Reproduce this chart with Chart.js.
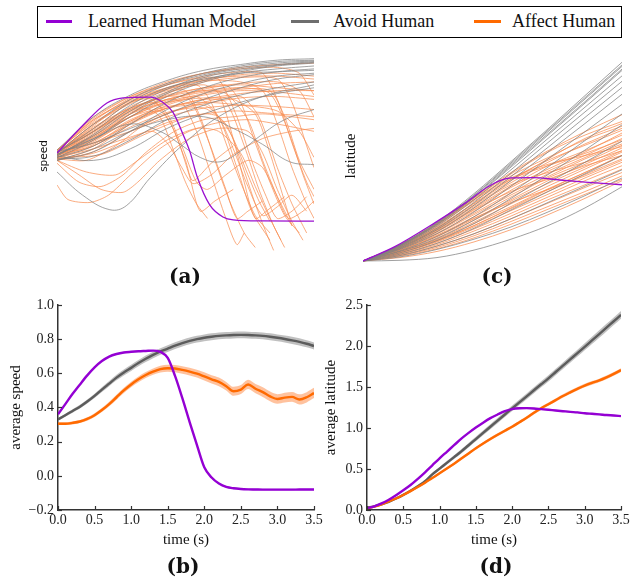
<!DOCTYPE html>
<html><head><meta charset="utf-8">
<script src="https://cdn.jsdelivr.net/npm/chart.js@4.4.1/dist/chart.umd.min.js"></script>
<style>
html,body{margin:0;padding:0;background:#fff;width:630px;height:578px;overflow:hidden;position:relative;font-family:'Liberation Serif','Times New Roman',serif;color:#111;}
canvas{position:absolute;}
.lgbox{position:absolute;left:37px;top:6px;width:583px;height:30px;border:1px solid #000;}
.lgline{position:absolute;top:20px;height:3px;}
.lgtext{position:absolute;top:11px;font-size:18px;line-height:20px;white-space:nowrap;}
.plab{position:absolute;width:80px;text-align:center;font-family:'DejaVu Serif',serif;font-weight:bold;font-size:20px;line-height:24px;}
</style></head><body>
<div class="lgbox"></div>
<div class="lgline" style="left:46px;width:26px;background:#9400D3"></div>
<span class="lgtext" style="left:88px">Learned Human Model</span>
<div class="lgline" style="left:291px;width:28px;background:#6e6e6e"></div>
<span class="lgtext" style="left:333px">Avoid Human</span>
<div class="lgline" style="left:474px;width:27px;background:#ff6a00"></div>
<span class="lgtext" style="left:512px">Affect Human</span>

<canvas id="cA" width="320" height="230" style="left:0;top:40px"></canvas>
<canvas id="cC" width="310" height="230" style="left:320px;top:40px"></canvas>
<canvas id="cB" width="330" height="265" style="left:0;top:290px"></canvas>
<canvas id="cD" width="320" height="265" style="left:320px;top:290px"></canvas>

<div class="plab" style="left:145px;top:264px">(a)</div>
<div class="plab" style="left:457px;top:264px">(c)</div>
<div class="plab" style="left:143px;top:554px">(b)</div>
<div class="plab" style="left:456px;top:554px">(d)</div>

<script>
// ---------------- data ----------------
const seriesNames = ['Learned Human Model', 'Avoid Human', 'Affect Human'];
const timeGrid = [0.0,0.1,0.2,0.3,0.4,0.5,0.6,0.7,0.8,0.9,1.0,1.1,1.2,1.3,1.4,1.5,1.6,1.7,1.8,1.9,2.0,2.1,2.2,2.3,2.4,2.5,2.6,2.7,2.8,2.9,3.0,3.1,3.2,3.3,3.4,3.5];
const timeTicks = [0.0,0.5,1.0,1.5,2.0,2.5,3.0,3.5];
const speedTicks = [-0.2,0.0,0.2,0.4,0.6,0.8,1.0];
const latitudeTicks = [0.0,0.5,1.0,1.5,2.0,2.5];

// (b) average speed
const avgSpeedLearned = [0.36,0.42,0.48,0.535,0.588,0.635,0.672,0.698,0.713,0.722,0.726,0.729,0.731,0.733,0.726,0.69,0.585,0.455,0.315,0.18,0.05,-0.01,-0.045,-0.065,-0.073,-0.077,-0.079,-0.08,-0.081,-0.081,-0.081,-0.081,-0.081,-0.08,-0.08,-0.08];
const avgSpeedAvoid = [0.33,0.355,0.38,0.405,0.435,0.468,0.505,0.54,0.575,0.605,0.632,0.66,0.685,0.708,0.728,0.745,0.762,0.777,0.79,0.8,0.808,0.814,0.819,0.822,0.824,0.825,0.824,0.822,0.819,0.814,0.808,0.801,0.793,0.784,0.773,0.76];
const avgSpeedAffect = [0.305,0.305,0.31,0.318,0.333,0.355,0.385,0.42,0.46,0.5,0.535,0.565,0.59,0.61,0.625,0.63,0.628,0.62,0.61,0.598,0.582,0.565,0.55,0.525,0.495,0.505,0.535,0.51,0.49,0.465,0.45,0.458,0.462,0.447,0.46,0.485];
const avgSpeedLearnedStd = [0.004,0.004,0.004,0.004,0.004,0.004,0.004,0.004,0.004,0.004,0.004,0.004,0.004,0.004,0.004,0.005,0.005,0.005,0.005,0.005,0.005,0.005,0.005,0.005,0.005,0.005,0.005,0.005,0.005,0.005,0.005,0.005,0.005,0.005,0.005,0.005];
const avgSpeedAvoidStd = [0.008,0.009,0.01,0.011,0.012,0.013,0.014,0.015,0.016,0.017,0.018,0.018,0.019,0.019,0.019,0.02,0.02,0.02,0.02,0.02,0.02,0.02,0.02,0.02,0.02,0.02,0.02,0.02,0.02,0.02,0.02,0.02,0.021,0.021,0.021,0.021];
const avgSpeedAffectStd = [0.008,0.008,0.009,0.009,0.01,0.011,0.012,0.013,0.014,0.015,0.016,0.017,0.018,0.019,0.02,0.02,0.021,0.022,0.022,0.023,0.024,0.024,0.025,0.025,0.026,0.026,0.027,0.027,0.028,0.028,0.028,0.029,0.029,0.03,0.03,0.03];

// (d) average latitude
const avgLatLearned = [0.02,0.045,0.08,0.125,0.18,0.24,0.305,0.38,0.46,0.545,0.63,0.71,0.79,0.87,0.94,1.005,1.065,1.12,1.165,1.205,1.23,1.24,1.242,1.238,1.23,1.222,1.213,1.205,1.197,1.19,1.18,1.173,1.166,1.158,1.152,1.145];
const avgLatAvoid = [0.03,0.045,0.07,0.1,0.14,0.185,0.235,0.29,0.35,0.435,0.505,0.575,0.645,0.715,0.79,0.865,0.94,1.015,1.09,1.165,1.24,1.313,1.386,1.46,1.533,1.606,1.683,1.76,1.837,1.913,1.99,2.068,2.146,2.224,2.302,2.38];
const avgLatAffect = [0.02,0.04,0.07,0.105,0.14,0.183,0.23,0.28,0.333,0.39,0.447,0.505,0.565,0.627,0.69,0.752,0.81,0.865,0.917,0.967,1.016,1.07,1.125,1.185,1.24,1.29,1.34,1.39,1.435,1.478,1.518,1.55,1.58,1.618,1.66,1.707];
const avgLatLearnedStd = [0.003,0.003,0.004,0.004,0.005,0.005,0.006,0.006,0.007,0.007,0.008,0.008,0.008,0.009,0.009,0.009,0.01,0.01,0.01,0.01,0.01,0.01,0.01,0.01,0.01,0.01,0.01,0.01,0.01,0.01,0.01,0.01,0.01,0.01,0.01,0.01];
const avgLatAvoidStd = [0.005,0.006,0.007,0.008,0.009,0.01,0.012,0.014,0.016,0.018,0.02,0.022,0.024,0.026,0.027,0.028,0.029,0.03,0.031,0.032,0.033,0.034,0.035,0.036,0.037,0.038,0.039,0.04,0.041,0.042,0.043,0.044,0.045,0.046,0.047,0.048];
const avgLatAffectStd = [0.004,0.005,0.006,0.007,0.008,0.009,0.01,0.011,0.012,0.013,0.014,0.015,0.015,0.016,0.016,0.017,0.017,0.018,0.018,0.018,0.019,0.019,0.019,0.02,0.02,0.02,0.02,0.021,0.021,0.021,0.022,0.022,0.022,0.022,0.023,0.023];

// (a) speed trajectories, [time, speed] pairs
const speedLearnedTraj = [[0,0.35],[0.35,0.54],[0.68,0.695],[0.9,0.73],[1.27,0.736],[1.44,0.70],[1.58,0.63],[1.72,0.475],[1.81,0.36],[1.91,0.185],[2.08,-0.007],[2.26,-0.09],[2.4,-0.11],[2.8,-0.117],[3.5,-0.118]];
const speedAvoidTraj = [
 [[0,0.37],[0.5,0.6],[1,0.75],[1.5,0.85],[2,0.92],[2.5,0.96],[3,0.99],[3.5,1.0]],
 [[0,0.35],[0.5,0.55],[1,0.72],[1.5,0.83],[2,0.9],[2.5,0.95],[3,0.98],[3.5,0.99]],
 [[0,0.33],[0.5,0.48],[1,0.66],[1.5,0.79],[2,0.88],[2.5,0.93],[3,0.96],[3.5,0.98]],
 [[0,0.34],[0.5,0.45],[1,0.6],[1.5,0.74],[2,0.84],[2.5,0.9],[3,0.93],[3.5,0.95]],
 [[0,0.32],[0.5,0.4],[1,0.55],[1.5,0.7],[2,0.8],[2.5,0.87],[3,0.91],[3.5,0.93]],
 [[0,0.3],[0.5,0.36],[1,0.5],[1.5,0.65],[2,0.76],[2.5,0.83],[3,0.88],[3.5,0.9]],
 [[0,0.36],[0.5,0.42],[1,0.52],[1.5,0.62],[2,0.72],[2.5,0.8],[3,0.86],[3.5,0.89]],
 [[0,0.31],[0.5,0.33],[1,0.44],[1.5,0.58],[2,0.68],[2.5,0.75],[3,0.8],[3.5,0.84]],
 [[0,0.33],[0.5,0.3],[1,0.38],[1.5,0.52],[2,0.62],[2.5,0.7],[3,0.76],[3.5,0.8]],
 [[0,0.22],[0.35,0.06],[0.72,-0.04],[0.95,-0.01],[1.27,0.18],[1.72,0.41],[2.2,0.6],[2.8,0.74],[3.5,0.82]],
 [[0,0.34],[0.5,0.45],[1,0.55],[1.4,0.5],[1.68,0.41],[1.95,0.32],[2.22,0.29],[2.49,0.36],[2.77,0.47],[3.1,0.58],[3.5,0.65]],
 [[0,0.3],[0.5,0.38],[1,0.5],[1.5,0.58],[2,0.6],[2.4,0.52],[2.8,0.41],[3.17,0.29],[3.5,0.27]],
 [[0,0.36],[0.5,0.5],[1,0.68],[1.5,0.8],[2,0.86],[2.5,0.9],[3,0.91],[3.5,0.92]],
 [[0,0.32],[0.5,0.44],[1,0.62],[1.5,0.76],[2,0.85],[2.5,0.91],[3,0.95],[3.5,0.97]],
 [[0,0.35],[0.5,0.52],[1,0.7],[1.5,0.82],[2,0.89],[2.5,0.94],[3,0.97],[3.5,0.985]],
 [[0,0.34],[0.5,0.47],[1,0.64],[1.5,0.77],[2,0.87],[2.5,0.92],[3,0.955],[3.5,0.975]]
];
const speedAffectTraj = [
 [[0,0.36],[0.5,0.6],[1,0.74],[1.5,0.83],[2,0.9],[2.5,0.94],[3,0.96],[3.5,0.97]],
 [[0,0.35],[0.5,0.52],[1,0.7],[1.5,0.8],[2,0.86],[2.5,0.88],[3,0.88],[3.5,0.86]],
 [[0,0.33],[0.5,0.45],[1,0.62],[1.5,0.74],[2,0.8],[2.5,0.82],[3,0.8],[3.5,0.78]],
 [[0,0.3],[0.5,0.38],[1,0.55],[1.5,0.68],[2,0.75],[2.5,0.78],[3,0.77],[3.5,0.74]],
 [[0,0.34],[0.5,0.42],[1,0.5],[1.5,0.6],[2,0.66],[2.5,0.68],[3,0.67],[3.5,0.65]],
 [[0,0.32],[0.6,0.34],[1.2,0.48],[1.8,0.6],[2.4,0.64],[3,0.62],[3.5,0.6]],
 [[0,0.35],[0.5,0.55],[1.0,0.7],[1.3,0.72],[1.55,0.55],[1.75,0.3],[1.85,0.16],[2.1,0.28],[2.4,0.4]],
 [[0,0.36],[0.5,0.52],[1.0,0.66],[1.5,0.74],[1.8,0.72],[2.05,0.45],[2.3,0.1],[2.45,-0.1],[2.6,-0.05],[2.8,0.02]],
 [[0,0.33],[0.5,0.46],[1.0,0.6],[1.5,0.7],[1.9,0.74],[2.2,0.6],[2.45,0.25],[2.65,-0.05],[2.9,-0.25]],
 [[0,0.34],[0.5,0.4],[1.0,0.56],[1.5,0.66],[2.0,0.72],[2.3,0.7],[2.55,0.4],[2.75,0.1],[2.95,-0.15],[3.1,-0.3]],
 [[0,0.3],[0.5,0.36],[1.0,0.5],[1.5,0.62],[2.0,0.7],[2.5,0.74],[2.75,0.6],[3.0,0.25],[3.2,0.0],[3.4,-0.2]],
 [[0,0.35],[0.5,0.5],[1.0,0.64],[1.5,0.72],[2.0,0.78],[2.5,0.8],[2.9,0.76],[3.15,0.5],[3.35,0.2],[3.5,0.0]],
 [[0,0.32],[0.5,0.43],[1.0,0.58],[1.4,0.64],[1.6,0.5],[1.8,0.2],[1.95,-0.05],[2.15,0.02],[2.4,0.1]],
 [[0,0.37],[0.5,0.56],[1.0,0.7],[1.5,0.78],[2.0,0.82],[2.2,0.76],[2.4,0.45],[2.55,0.15],[2.7,-0.1],[2.85,-0.05],[3.1,0.05]],
 [[0,0.31],[0.4,0.3],[0.8,0.4],[1.2,0.55],[1.6,0.64],[2.0,0.66],[2.3,0.55],[2.5,0.3],[2.7,0.0],[2.85,-0.2],[2.95,-0.32]],
 [[0,0.33],[0.5,0.48],[1.0,0.62],[1.5,0.7],[2.0,0.73],[2.4,0.72],[2.7,0.62],[2.9,0.35],[3.05,0.1],[3.2,-0.15]],
 [[0,0.36],[0.5,0.5],[1.0,0.64],[1.5,0.76],[2.0,0.84],[2.5,0.87],[3.0,0.86],[3.2,0.7],[3.4,0.4],[3.5,0.25]],
 [[0,0.34],[0.5,0.44],[1.0,0.6],[1.5,0.72],[1.7,0.7],[1.9,0.5],[2.1,0.2],[2.3,-0.1],[2.45,-0.28],[2.55,-0.2]],
 [[0,0.13],[0.15,0.03],[0.45,0.01],[0.7,0.06],[1.0,0.2],[1.4,0.38],[1.8,0.5],[2.2,0.56],[2.6,0.58],[3.0,0.55],[3.5,0.5]],
 [[0,0.28],[0.3,0.15],[0.6,0.12],[0.9,0.2],[1.2,0.35],[1.6,0.5],[2.0,0.58],[2.4,0.6],[2.8,0.62],[3.2,0.6],[3.5,0.58]],
 [[0,0.3],[0.4,0.22],[0.8,0.2],[1.1,0.3],[1.5,0.44],[1.9,0.52],[2.2,0.5],[2.5,0.35],[2.7,0.12],[2.9,-0.1],[3.05,-0.25]],
 [[0,0.35],[0.5,0.54],[1.0,0.72],[1.5,0.82],[2.0,0.88],[2.5,0.91],[2.8,0.9],[3.0,0.72],[3.2,0.42],[3.4,0.15],[3.5,0.05]],
 [[0,0.32],[0.5,0.38],[1.0,0.46],[1.3,0.5],[1.5,0.42],[1.7,0.25],[1.85,0.14],[2.1,0.2],[2.4,0.34],[2.8,0.45],[3.2,0.5],[3.5,0.52]],
 [[0,0.36],[0.5,0.57],[1.0,0.73],[1.5,0.82],[2.0,0.87],[2.2,0.86],[2.45,0.6],[2.65,0.3],[2.85,0.05],[3.0,-0.1],[3.2,-0.05],[3.4,0.05]],
 [[0,0.33],[0.5,0.47],[1.0,0.6],[1.5,0.67],[2.0,0.7],[2.5,0.68],[3.0,0.64],[3.3,0.5],[3.5,0.32]],
 [[0,0.31],[0.5,0.35],[1.0,0.45],[1.5,0.56],[2.0,0.62],[2.2,0.6],[2.4,0.45],[2.6,0.2],[2.75,0.02],[2.9,-0.12]],
 [[0,0.37],[0.5,0.59],[1.0,0.74],[1.5,0.84],[2.0,0.9],[2.5,0.93],[3.0,0.94],[3.3,0.9],[3.5,0.75]],
 [[0,0.34],[0.5,0.5],[1.0,0.67],[1.5,0.77],[1.75,0.78],[1.95,0.6],[2.15,0.3],[2.35,0.02],[2.55,-0.2],[2.7,-0.3]],
 [[0,0.35],[0.5,0.53],[1.0,0.66],[1.5,0.74],[2.0,0.78],[2.3,0.76],[2.6,0.58],[2.8,0.3],[3.0,0.05],[3.15,-0.1],[3.35,-0.05],[3.5,0.02]],
 [[0,0.32],[0.5,0.42],[1.0,0.55],[1.5,0.66],[2.0,0.72],[2.5,0.76],[3.0,0.78],[3.5,0.78]],
 [[0,0.36],[0.5,0.47],[1.0,0.62],[1.2,0.66],[1.4,0.6],[1.6,0.35],[1.75,0.15],[1.9,0.0],[2.05,-0.1]],
 [[0,0.3],[0.3,0.2],[0.6,0.1],[0.9,0.08],[1.1,0.15],[1.4,0.3],[1.8,0.45],[2.2,0.52],[2.6,0.5],[2.8,0.35],[3.0,0.1],[3.2,-0.12],[3.35,-0.25]],
 [[0,0.36],[0.5,0.58],[1,0.72],[1.5,0.8],[2,0.85],[2.5,0.84],[2.8,0.78],[3.0,0.55],[3.2,0.25],[3.4,0.0],[3.5,-0.1]],
 [[0,0.34],[0.5,0.5],[1,0.65],[1.5,0.75],[2,0.8],[2.3,0.82],[2.5,0.7],[2.7,0.42],[2.9,0.15],[3.1,-0.08],[3.3,-0.2]],
 [[0,0.35],[0.5,0.55],[1,0.69],[1.5,0.79],[2,0.85],[2.5,0.89],[3,0.9],[3.5,0.88]],
 [[0,0.33],[0.5,0.49],[1,0.63],[1.5,0.72],[2,0.77],[2.5,0.8],[3,0.83],[3.5,0.84]],
 [[0,0.31],[0.5,0.4],[1,0.53],[1.5,0.63],[2,0.69],[2.5,0.73],[3,0.74],[3.5,0.72]],
 [[0,0.37],[0.5,0.58],[1,0.71],[1.5,0.79],[1.9,0.82],[2.1,0.7],[2.3,0.42],[2.5,0.15],[2.7,-0.08],[2.9,-0.2]],
 [[0,0.32],[0.5,0.41],[1,0.57],[1.5,0.69],[2,0.76],[2.5,0.79],[2.9,0.78],[3.1,0.6],[3.3,0.3],[3.5,0.1]],
 [[0,0.35],[0.5,0.51],[1,0.65],[1.3,0.7],[1.5,0.62],[1.7,0.4],[1.9,0.15],[2.05,0.1],[2.3,0.2],[2.6,0.3],[2.8,0.25],[3.0,0.05],[3.2,-0.15]],
 [[0,0.34],[0.5,0.46],[1,0.6],[1.5,0.71],[2,0.79],[2.5,0.83],[3,0.84],[3.3,0.78],[3.5,0.6]],
 [[0,0.33],[0.5,0.44],[1,0.57],[1.5,0.66],[2,0.68],[2.2,0.6],[2.4,0.38],[2.6,0.12],[2.8,-0.08],[3.0,-0.02],[3.2,0.06],[3.4,-0.05]]
];

// (c) latitude trajectories
const latTrajTimes = [0,0.5,1,1.5,2,2.5,3,3.5];
const latLearnedTraj = [[0,0],[0.43,0.21],[0.97,0.56],[1.38,0.85],[1.69,1.09],[1.85,1.18],[2.0,1.22],[2.3,1.225],[2.66,1.19],[3.0,1.16],[3.5,1.12]];
const latAvoidTraj = [
 [0,0.24,0.57,0.99,1.46,1.94,2.43,2.92],
 [0,0.235,0.56,0.97,1.44,1.92,2.4,2.88],
 [0,0.23,0.55,0.96,1.42,1.9,2.38,2.86],
 [0,0.225,0.54,0.94,1.4,1.87,2.34,2.82],
 [0,0.22,0.53,0.93,1.38,1.85,2.32,2.8],
 [0,0.21,0.51,0.9,1.34,1.8,2.26,2.72],
 [0,0.2,0.48,0.86,1.29,1.74,2.19,2.64],
 [0,0.19,0.46,0.82,1.24,1.67,2.11,2.55],
 [0,0.18,0.43,0.78,1.18,1.6,2.02,2.45],
 [0,0.17,0.4,0.72,1.1,1.5,1.9,2.3],
 [0,0.15,0.36,0.65,1.0,1.38,1.77,2.16],
 [0,0.14,0.33,0.6,0.92,1.27,1.63,2.0],
 [0,0.12,0.3,0.55,0.85,1.15,1.45,1.76],
 [0,0.1,0.26,0.48,0.75,1.02,1.28,1.55],
 [0,0.08,0.22,0.4,0.62,0.86,1.1,1.34],
 [0,0.06,0.17,0.32,0.5,0.72,0.96,1.22],
 [0,0.01,0.05,0.16,0.32,0.52,0.78,1.09]
];
const latAffectTraj = [
 [0,0.24,0.56,0.93,1.3,1.62,1.9,2.15],
 [0,0.235,0.55,0.92,1.28,1.6,1.85,2.05],
 [0,0.23,0.53,0.9,1.25,1.52,1.78,1.98],
 [0,0.22,0.5,0.85,1.2,1.48,1.7,1.92],
 [0,0.21,0.48,0.82,1.15,1.45,1.72,1.95],
 [0,0.2,0.46,0.78,1.1,1.4,1.62,1.85],
 [0,0.2,0.45,0.76,1.08,1.35,1.6,1.88],
 [0,0.19,0.43,0.73,1.04,1.32,1.55,1.8],
 [0,0.18,0.41,0.7,1.0,1.28,1.52,1.76],
 [0,0.18,0.4,0.68,0.97,1.24,1.5,1.72],
 [0,0.17,0.38,0.65,0.94,1.22,1.45,1.7],
 [0,0.16,0.36,0.62,0.9,1.18,1.42,1.66],
 [0,0.15,0.34,0.6,0.88,1.14,1.38,1.62],
 [0,0.14,0.32,0.57,0.84,1.1,1.35,1.6],
 [0,0.14,0.31,0.55,0.8,1.06,1.3,1.55],
 [0,0.13,0.3,0.52,0.77,1.02,1.27,1.5],
 [0,0.12,0.28,0.5,0.74,0.98,1.22,1.45],
 [0,0.11,0.26,0.47,0.7,0.94,1.18,1.4],
 [0,0.1,0.24,0.44,0.66,0.9,1.12,1.35],
 [0,0.09,0.22,0.4,0.62,0.85,1.08,1.3],
 [0,0.08,0.2,0.37,0.58,0.8,1.02,1.25],
 [0,0.07,0.18,0.34,0.54,0.76,0.98,1.2],
 [0,0.05,0.14,0.28,0.46,0.68,0.92,1.18],
 [0,0.23,0.54,0.9,1.22,1.42,1.55,1.68],
 [0,0.2,0.47,0.8,1.12,1.3,1.45,1.62],
 [0,0.19,0.44,0.75,1.02,1.2,1.4,1.55],
 [0,0.16,0.37,0.63,0.86,1.05,1.25,1.48],
 [0,0.12,0.29,0.52,0.78,1.05,1.3,1.55],
 [0,0.21,0.49,0.84,1.18,1.5,1.8,2.02],
 [0,0.22,0.52,0.88,1.2,1.4,1.58,1.78]
];

// ---------------- drawing ----------------
const serif = "'Liberation Serif','Times New Roman',serif";
const axisColor = '#333';
const C_PURPLE = '#9400D3', C_GRAY = '#5c5c5c', C_ORANGE = '#ff6a00';
const fmt = v => (Math.abs(v) < 1e-9 ? 0 : v).toFixed(1).replace('-', '\u2212');

function pairLine(p, color, width, order, tension, mono) {
  return { data: p.map(q => ({x: q[0], y: q[1]})), borderColor: color, borderWidth: width,
    pointRadius: 0, fill: false, order: order, tension: tension,
    cubicInterpolationMode: mono ? 'monotone' : 'default' };
}
function gridLine(xs, ys, color, width, order, mono) {
  return pairLine(xs.map((x, i) => [x, ys[i]]), color, width, order, 0.3, mono);
}
function band(xs, ys, sd, color) {
  const lo = { data: xs.map((x, i) => ({x: x, y: ys[i] - sd[i]})), borderColor: 'rgba(0,0,0,0)', borderWidth: 0,
    pointRadius: 0, fill: false, order: 20, cubicInterpolationMode: 'monotone' };
  const hi = { data: xs.map((x, i) => ({x: x, y: ys[i] + sd[i]})), borderColor: 'rgba(0,0,0,0)', borderWidth: 0,
    pointRadius: 0, fill: '-1', backgroundColor: color, order: 20, cubicInterpolationMode: 'monotone' };
  return [lo, hi];
}

const inwardTicks = {
  id: 'inwardTicks',
  afterDraw(chart, args, opts) {
    if (!opts || !opts.enabled) return;
    const {ctx, chartArea: a} = chart;
    const xs = chart.scales.x, ys = chart.scales.y;
    ctx.save();
    ctx.strokeStyle = axisColor; ctx.lineWidth = 1.2;
    xs.ticks.forEach(t => {
      const px = Math.round(xs.getPixelForValue(t.value)) + 0.5;
      ctx.beginPath(); ctx.moveTo(px, a.bottom); ctx.lineTo(px, a.bottom - 4); ctx.stroke();
    });
    ys.ticks.forEach(t => {
      const py = Math.round(ys.getPixelForValue(t.value)) + 0.5;
      ctx.beginPath(); ctx.moveTo(a.left, py); ctx.lineTo(a.left + 4, py); ctx.stroke();
    });
    ctx.restore();
  }
};

const baseOpts = {
  responsive: false, animation: false, events: [],
  plugins: { legend: {display: false}, tooltip: {enabled: false} },
  elements: { point: {radius: 0} }
};

// panel (a)
(function () {
  const ds = [];
  speedAffectTraj.forEach(p => ds.push(pairLine(p, 'rgba(248,140,80,0.72)', 1, 3, 0.25, false)));
  speedAvoidTraj.forEach(p => ds.push(pairLine(p, 'rgba(128,128,128,0.72)', 1, 2, 0.4, false)));
  ds.push(pairLine(speedLearnedTraj, '#9a10d0', 1.3, 1, 0, true));
  new Chart(document.getElementById('cA'), {
    type: 'line', data: {datasets: ds},
    options: Object.assign({}, baseOpts, {
      layout: {padding: {left: 0, right: 6, top: 10, bottom: 8}},
      scales: {
        x: {type: 'linear', min: 0, max: 3.5, display: false},
        y: {type: 'linear', min: -0.4, max: 1.06, display: true,
            grid: {display: false}, border: {display: false}, ticks: {display: false},
            title: {display: true, text: 'speed', color: '#111', font: {family: "'DejaVu Sans',sans-serif", size: 10.5}, padding: {top: 38, bottom: 0}},
            afterFit: s => { s.width = 57; }}
      }
    })
  });
})();

// panel (c)
(function () {
  const ds = [];
  latAffectTraj.forEach(v => ds.push(gridLine(latTrajTimes, v, 'rgba(248,140,80,0.75)', 1, 3, true)));
  latAvoidTraj.forEach(v => ds.push(gridLine(latTrajTimes, v, 'rgba(128,128,128,0.75)', 1, 2, true)));
  ds.push(pairLine(latLearnedTraj, '#9a10d0', 1.3, 1, 0, true));
  new Chart(document.getElementById('cC'), {
    type: 'line', data: {datasets: ds},
    options: Object.assign({}, baseOpts, {
      layout: {padding: {left: 0, right: 8, top: 10, bottom: 8}},
      scales: {
        x: {type: 'linear', min: 0, max: 3.5, display: false},
        y: {type: 'linear', min: -0.015, max: 3.1, display: true,
            grid: {display: false}, border: {display: false}, ticks: {display: false},
            title: {display: true, text: 'latitude', color: '#111', font: {family: serif, size: 15}, padding: {top: 22, bottom: 0}},
            afterFit: s => { s.width = 43; }}
      }
    })
  });
})();

function meanScales(yTicks, yMin, yMax, yTitle, yWidth, yTitlePad) {
  return {
    x: {type: 'linear', min: 0, max: 3.5,
        afterBuildTicks: s => { s.ticks = timeTicks.map(v => ({value: v})); },
        afterFit: s => { s.height = 45; },
        grid: {display: true, drawOnChartArea: false, drawTicks: false},
        border: {display: true, color: axisColor, width: 1.5},
        ticks: {padding: 2, color: '#222', font: {family: serif, size: 14}, maxRotation: 0, autoSkip: false, callback: v => fmt(v)},
        title: {display: true, text: 'time (s)', color: '#111', font: {family: serif, size: 15}, padding: {top: 0, bottom: 6}}},
    y: {type: 'linear', min: yMin, max: yMax,
        afterBuildTicks: s => { s.ticks = yTicks.map(v => ({value: v})); },
        afterFit: s => { s.width = yWidth; },
        grid: {display: true, drawOnChartArea: false, drawTicks: false},
        border: {display: true, color: axisColor, width: 1.5},
        ticks: {padding: 4, color: '#222', font: {family: serif, size: 14}, autoSkip: false, callback: v => fmt(v)},
        title: {display: true, text: yTitle, color: '#111', font: {family: serif, size: 15}, padding: {top: yTitlePad, bottom: 0}}}
  };
}

function meanChart(id, learned, avoid, affect, sdL, sdV, sdF, yTicks, yMin, yMax, yTitle, yWidth, yTitlePad, rightPad) {
  const ds = [];
  band(timeGrid, avoid, sdV, 'rgba(140,140,140,0.55)').forEach(d => ds.push(d));
  band(timeGrid, affect, sdF, 'rgba(255,120,40,0.45)').forEach(d => ds.push(d));
  band(timeGrid, learned, sdL, 'rgba(160,40,220,0.35)').forEach(d => ds.push(d));
  ds.push(gridLine(timeGrid, avoid, C_GRAY, 2.4, 3, true));
  ds.push(gridLine(timeGrid, affect, C_ORANGE, 2.4, 2, true));
  ds.push(gridLine(timeGrid, learned, C_PURPLE, 2.4, 1, true));
  new Chart(document.getElementById(id), {
    type: 'line', data: {datasets: ds}, plugins: [inwardTicks],
    options: Object.assign({}, baseOpts, {
      layout: {padding: {left: 0, right: rightPad, top: 15, bottom: 0}},
      plugins: { legend: {display: false}, tooltip: {enabled: false}, inwardTicks: {enabled: true} },
      scales: meanScales(yTicks, yMin, yMax, yTitle, yWidth, yTitlePad)
    })
  });
}

meanChart('cB', avgSpeedLearned, avgSpeedAvoid, avgSpeedAffect, avgSpeedLearnedStd, avgSpeedAvoidStd, avgSpeedAffectStd,
  speedTicks, -0.2, 1.0, 'average speed', 58, 7, 16);
meanChart('cD', avgLatLearned, avgLatAvoid, avgLatAffect, avgLatLearnedStd, avgLatAvoidStd, avgLatAffectStd,
  latitudeTicks, 0, 2.5, 'average latitude', 47, 2, 19);
</script>
</body></html>
